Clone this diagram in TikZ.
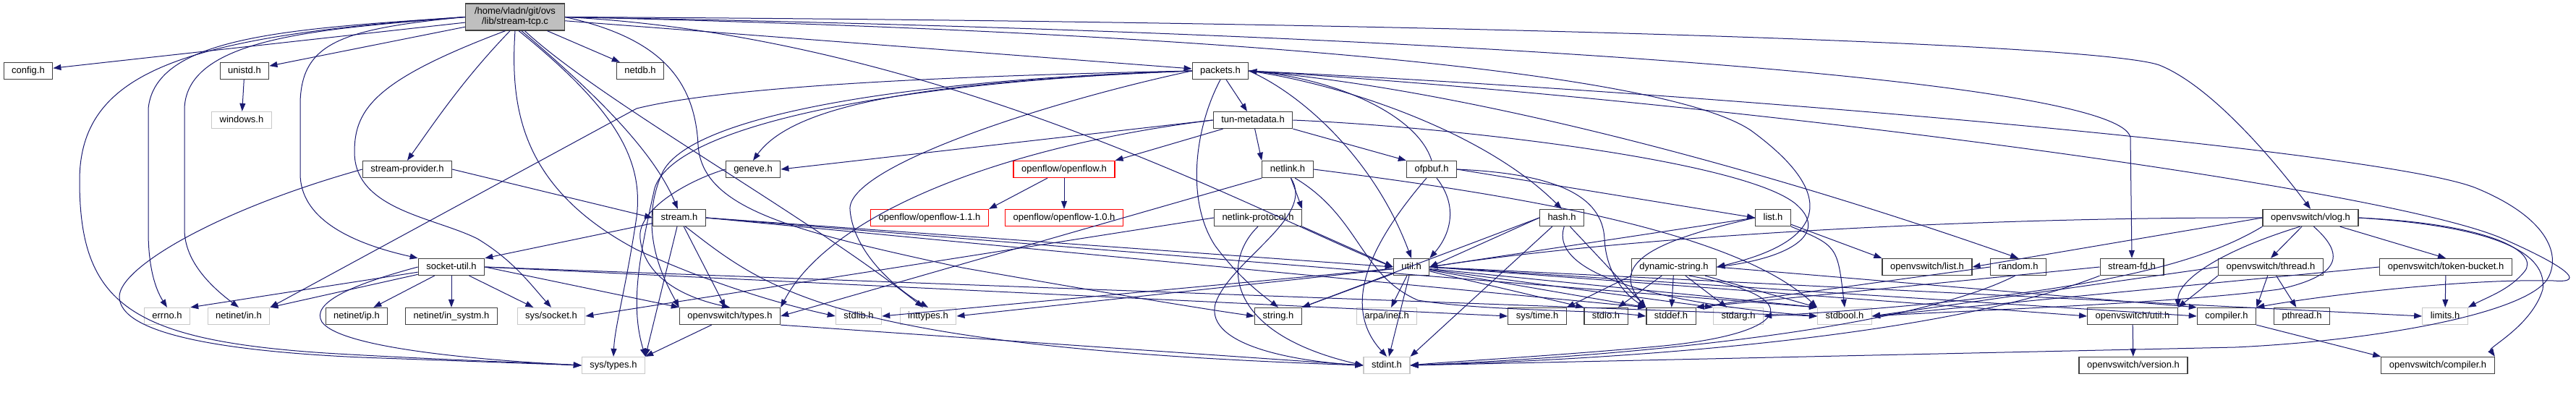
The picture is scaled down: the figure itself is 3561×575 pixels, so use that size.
\documentclass[tikz,border=0pt]{standalone}
\usepackage{fontspec}
\setmainfont{Liberation Sans}
\usetikzlibrary{arrows.meta}
\definecolor{mblue}{RGB}{25,25,112}
\definecolor{gborder}{RGB}{200,200,200}
\definecolor{bborder}{RGB}{64,64,64}
\definecolor{rootfill}{RGB}{191,191,191}
\begin{document}
\begin{tikzpicture}[x=1pt,y=-1pt,
  box/.style={draw=bborder, line width=1.3pt, fill=white, font=\fontsize{13}{14}\selectfont,
    inner sep=0pt, inner xsep=11pt, minimum height=23pt, text height=9.5pt, text depth=2.5pt},
  gbox/.style={box, draw=gborder},
  rbox/.style={box, draw=red},
  rootbox/.style={box, fill=rootfill, align=center, minimum width=137pt, minimum height=37pt, text height=, text depth=},
  e/.style={draw=mblue, line width=1pt, -{Triangle[length=11pt,width=8pt]}}]
\useasboundingbox[fill=white] (0,0) rectangle (3561,575);

% ---------- nodes ----------
\node[rootbox] (root) at (712,23.5) {/home/vladn/git/ovs\\/lib/stream-tcp.c};
\node[box] (config) at (39,98) {config.h};
\node[box] (unistd) at (338,98) {unistd.h};
\node[box] (netdb) at (885,98) {netdb.h};
\node[box] (packets) at (1687,98) {packets.h};
\node[gbox] (windows) at (334,166) {windows.h};
\node[box] (tunmeta) at (1732,166) {tun-metadata.h};
\node[box] (streamprov) at (563,234) {stream-provider.h};
\node[box] (geneve) at (1041,234) {geneve.h};
\node[rbox] (openflow) at (1471,234) {openflow/openflow.h};
\node[box] (netlink) at (1780,234) {netlink.h};
\node[box] (ofpbuf) at (1979,234) {ofpbuf.h};
\node[box] (stream) at (939,301) {stream.h};
\node[rbox] (of11) at (1285,301) {openflow/openflow-1.1.h};
\node[rbox] (of10) at (1471,301) {openflow/openflow-1.0.h};
\node[box] (nlproto) at (1739,301) {netlink-protocol.h};
\node[box] (hash) at (2159,301) {hash.h};
\node[box] (list) at (2451,301) {list.h};
\node[box] (vlog) at (3194,301) {openvswitch/vlog.h};
\node[box] (sockutil) at (624,369) {socket-util.h};
\node[box] (util) at (1951,369) {util.h};
\node[box] (dynstr) at (2314,369) {dynamic-string.h};
\node[box] (ovslist) at (2664,369) {openvswitch/list.h};
\node[box] (random) at (2790,369) {random.h};
\node[box] (streamfd) at (2947,369) {stream-fd.h};
\node[box] (thread) at (3139,369) {openvswitch/thread.h};
\node[box] (token) at (3381,369) {openvswitch/token-bucket.h};
\node[gbox] (errno) at (231,437) {errno.h};
\node[gbox] (netin) at (330,437) {netinet/in.h};
\node[box] (netip) at (493,437) {netinet/ip.h};
\node[box] (insystm) at (624,437) {netinet/in\_systm.h};
\node[gbox] (syssocket) at (762,437) {sys/socket.h};
\node[box] (ovstypes) at (1009,437) {openvswitch/types.h};
\node[gbox] (stdlib) at (1187,437) {stdlib.h};
\node[gbox] (inttypes) at (1283,437) {inttypes.h};
\node[box] (string) at (1767,437) {string.h};
\node[gbox] (arpa) at (1917,437) {arpa/inet.h};
\node[box] (systime) at (2125,437) {sys/time.h};
\node[box] (stdio) at (2220,437) {stdio.h};
\node[box] (stddef) at (2310,437) {stddef.h};
\node[gbox] (stdarg) at (2403,437) {stdarg.h};
\node[gbox] (stdbool) at (2550,437) {stdbool.h};
\node[box] (ovsutil) at (2948,437) {openvswitch/util.h};
\node[box] (compiler) at (3078,437) {compiler.h};
\node[box] (pthread) at (3182,437) {pthread.h};
\node[gbox] (limits) at (3380,437) {limits.h};
\node[gbox] (systypes) at (848,505) {sys/types.h};
\node[gbox] (stdint) at (1917,505) {stdint.h};
\node[box] (version) at (2949,505) {openvswitch/version.h};
\node[box] (ovscompiler) at (3370,505) {openvswitch/compiler.h};

% ---------- edges from stream-tcp.c ----------
\draw[e] (root) -- (config);
\draw[e] (root) -- (unistd);
\draw[e] (root) -- (netdb);
\draw[e] (root) -- (packets);
\draw[e] (root.-110) .. controls (640,110) and (600,170) .. (streamprov.north);
\draw[e] (root.-65) .. controls (800,110) and (900,200) .. (stream.100);
\draw[e] (root.west) .. controls (470,40) and (418,60) .. (415,140) -- (415,240) .. controls (415,300) and (480,335) .. (sockutil.north west);
\draw[e] (root.west) .. controls (400,40) and (215,50) .. (205,150) -- (205,320) .. controls (205,370) and (215,400) .. (errno.north);
\draw[e] (root.west) .. controls (450,40) and (258,50) .. (255,150) -- (255,317) .. controls (255,360) and (290,395) .. (netin.north);
\draw[e] (root.west) .. controls (250,50) and (110,100) .. (110,250) .. controls (110,420) and (180,470) .. (450,488) .. controls (600,497) and (750,502) .. (systypes.west);
\draw[e] (root.-125) .. controls (520,110) and (490,150) .. (490,210) .. controls (490,290) and (600,300) .. (660,330) .. controls (710,360) and (735,395) .. (syssocket.north);
\draw[e] (root.-90) .. controls (705,150) and (720,260) .. (880,345) .. controls (1000,400) and (1100,425) .. (stdlib.west);
\draw[e] (root.-75) .. controls (850,150) and (890,220) .. (880,300) .. controls (865,400) and (850,450) .. (systypes.north);
\draw[e] (root.-55) .. controls (830,140) and (1120,300) .. (inttypes.120);
\draw[e] (root.east) .. controls (900,50) and (960,100) .. (965,200) .. controls (970,290) and (1100,320) .. (1330,370) .. controls (1500,400) and (1650,425) .. (string.west);
\draw[e] (root.east) .. controls (1300,50) and (1750,300) .. (util.west);
\draw[e] (root.east) .. controls (1700,45) and (2300,100) .. (2420,180) .. controls (2530,260) and (2540,330) .. (dynstr.east);
\draw[e] (root.east) .. controls (2000,45) and (2930,110) .. (2945,190) -- (streamfd.north);
\draw[e] (root.east) .. controls (2000,30) and (2900,60) .. (2985,90) .. controls (3060,120) and (3150,230) .. (vlog.north);

% ---------- other edges ----------
\draw[e] (unistd) -- (windows);
\draw[e] (streamprov.east) -- (stream.west);
\draw[e] (streamprov.west) .. controls (300,290) and (165,370) .. (165,410) .. controls (165,460) and (300,485) .. (500,494) -- (systypes.west);

\draw[e] (stream) -- (sockutil.north east);
\draw[e] (stream) -- (systypes.north east);
\draw[e] (stream) -- (ovstypes);
\draw[e] (stream.-55) .. controls (1060,400) and (1150,480) .. (stdint.west);
\draw[e] (stream.east) -- (util.west);
\draw[e] (stream.east) -- (stddef.north west);
\draw[e] (stream.east) -- (stdbool.north west);

\draw[e] (sockutil) -- (errno.north east);
\draw[e] (sockutil) -- (netin.north east);
\draw[e] (sockutil) -- (netip);
\draw[e] (sockutil) -- (insystm);
\draw[e] (sockutil) -- (syssocket);
\draw[e] (sockutil.east) -- (ovstypes.north west);
\draw[e] (sockutil.east) -- (systime.west);
\draw[e] (sockutil.east) -- (stdbool.west);
\draw[e] (sockutil.west) .. controls (480,395) and (430,420) .. (445,445) .. controls (470,480) and (650,497) .. (systypes.west);

\draw[e] (packets) -- (tunmeta);
\draw[e] (packets.west) .. controls (1300,112) and (1100,140) .. (geneve.north);
\draw[e] (packets.west) .. controls (1300,105) and (1000,120) .. (880,150) -- (netin.north east);
\draw[e] (packets.west) .. controls (1250,110) and (950,160) .. (915,240) .. controls (880,320) and (920,390) .. (ovstypes.north west);
\draw[e] (packets.west) .. controls (1200,115) and (930,180) .. (905,260) .. controls (885,350) and (870,420) .. (systypes.north east);
\draw[e] (packets.west) .. controls (1450,140) and (1170,230) .. (1175,290) .. controls (1180,350) and (1240,400) .. (inttypes.north);
\draw[e] (packets.south) .. controls (1650,180) and (1640,280) .. (1680,340) .. controls (1710,380) and (1735,400) .. (string.north);
\draw[e] (packets.east) .. controls (1800,130) and (1900,220) .. (util.north);
\draw[e] (packets.east) .. controls (1850,115) and (2050,180) .. (hash.north);
\draw[e] (packets.east) .. controls (2000,120) and (2400,220) .. (random.north);
\draw[e] (packets.east) .. controls (2400,130) and (3300,210) .. (3423,260) .. controls (3520,300) and (3540,350) .. (3523,383) .. controls (3500,430) and (3300,470) .. (3090,480) -- (stdint.east);
\draw[e] (packets.east) .. controls (2400,140) and (3300,260) .. (3460,330) .. controls (3540,365) and (3580,392) .. (3530,388) .. controls (3400,385) and (3200,410) .. (compiler.north east);

\draw[e] (geneve.west) .. controls (950,250) and (880,290) .. (885,330) .. controls (890,380) and (940,410) .. (ovstypes.north);

\draw[e] (tunmeta.west) -- (geneve.east);
\draw[e] (tunmeta.west) .. controls (1400,200) and (1150,290) .. (ovstypes.north east);
\draw[e] (tunmeta) -- (openflow.north east);
\draw[e] (tunmeta) -- (netlink.north west);
\draw[e] (tunmeta.south east) -- (ofpbuf.north west);
\draw[e] (tunmeta.east) .. controls (2000,175) and (2400,220) .. (2480,280) .. controls (2530,320) and (2480,355) .. (dynstr.east);

\draw[e] (openflow) -- (of11.north east);
\draw[e] (openflow) -- (of10);

\draw[e] (netlink) -- (nlproto.north east);
\draw[e] (netlink.south west) -- (ovstypes.east);
\draw[e] (netlink.-70) .. controls (1820,300) and (1700,360) .. (1680,420) .. controls (1665,480) and (1800,500) .. (stdint.west);
\draw[e] (netlink.-50) .. controls (1880,300) and (1880,380) .. (1960,415) .. controls (2050,430) and (2200,428) .. (stddef.west);
\draw[e] (netlink.east) .. controls (2100,270) and (2400,320) .. (stdbool.north west);

\draw[e] (nlproto.south east) -- (util.west);
\draw[e] (nlproto.south) .. controls (1690,360) and (1690,460) .. (stdint.west);
\draw[e] (nlproto.west) -- (syssocket.east);

\draw[e] (ofpbuf.north) .. controls (1960,160) and (1850,110) .. (packets.east);
\draw[e] (ofpbuf.east) -- (list.west);
\draw[e] (ofpbuf.-60) .. controls (2020,290) and (2000,330) .. (util.north east);
\draw[e] (ofpbuf.-120) .. controls (1900,330) and (1850,420) .. (stdint.north);
\draw[e] (ofpbuf.east) .. controls (2150,240) and (2215,270) .. (2218,330) .. controls (2220,380) and (2250,410) .. (stddef.north west);

\draw[e] (hash.west) -- (util.east);
\draw[e] (hash.west) -- (string.north east);
\draw[e] (hash) -- (stdint.north east);
\draw[e] (hash.-75) .. controls (2140,380) and (2300,420) .. (stdbool.west);
\draw[e] (hash) -- (stddef.north west);

\draw[e] (list) -- (ovslist.north west);
\draw[e] (list.west) -- (util.east);
\draw[e] (list.south east) .. controls (2540,340) .. (stdbool.north);
\draw[e] (list.west) .. controls (2300,330) and (2220,360) .. (stddef.north west);

\draw[e] (util) -- (arpa);
\draw[e] (util) -- (inttypes.east);
\draw[e] (util) -- (stdlib.east);
\draw[e] (util) -- (string.north east);
\draw[e] (util) -- (stdint);
\draw[e] (util) -- (stdio.north west);
\draw[e] (util) -- (stddef.north west);
\draw[e] (util) -- (stdarg.north west);
\draw[e] (util) -- (stdbool.north west);
\draw[e] (util.east) -- (ovsutil.west);
\draw[e] (util.east) -- (compiler.west);
\draw[e] (util.east) -- (limits.west);

\draw[e] (dynstr.south west) -- (systime.north east);
\draw[e] (dynstr) -- (stdio);
\draw[e] (dynstr) -- (stddef);
\draw[e] (dynstr) -- (stdarg);
\draw[e] (dynstr) -- (stdbool.north west);
\draw[e] (dynstr.-30) .. controls (2500,410) and (2480,460) .. (2300,478) .. controls (2150,492) and (2000,500) .. (stdint.east);
\draw[e] (dynstr.east) -- (compiler.north west);

\draw[e] (vlog.west) -- (ovslist.east);
\draw[e] (vlog.west) .. controls (2800,300) and (2300,320) .. (util.east);
\draw[e] (vlog) -- (thread.north);
\draw[e] (vlog) -- (token.north);
\draw[e] (vlog.east) .. controls (3450,310) and (3510,350) .. (3490,375) .. controls (3470,400) and (3440,410) .. (limits.north east);
\draw[e] (vlog.east) .. controls (3480,315) and (3520,360) .. (3515,400) .. controls (3500,450) and (3440,480) .. (ovscompiler.north east);
\draw[e] (vlog.south west) .. controls (3050,360) and (2900,410) .. (stdarg.east);
\draw[e] (vlog.-70) .. controls (3240,350) and (3240,380) .. (3150,400) .. controls (3000,420) and (2700,430) .. (stdbool.east);
\draw[e] (vlog.-140) .. controls (3060,350) and (3010,390) .. (ovsutil.north east);

\draw[e] (thread) -- (pthread);
\draw[e] (thread.south west) -- (ovsutil.north east);
\draw[e] (thread) -- (compiler.north east);
\draw[e] (thread.west) -- (stdbool.east);

\draw[e] (token) -- (limits);
\draw[e] (token.west) -- (stdbool.east);

\draw[e] (random.west) -- (stddef.north east);
\draw[e] (random.-110) .. controls (2650,450) and (2300,490) .. (stdint.east);

\draw[e] (streamfd.west) -- (stddef.north east);
\draw[e] (streamfd.south west) .. controls (2700,460) and (2300,495) .. (stdint.east);

\draw[e] (ovsutil) -- (version);
\draw[e] (compiler.south east) -- (ovscompiler.north west);
\draw[e] (ovstypes) -- (systypes.north east);
\draw[e] (ovstypes.south east) -- (stdint.west);
\end{tikzpicture}
\end{document}
